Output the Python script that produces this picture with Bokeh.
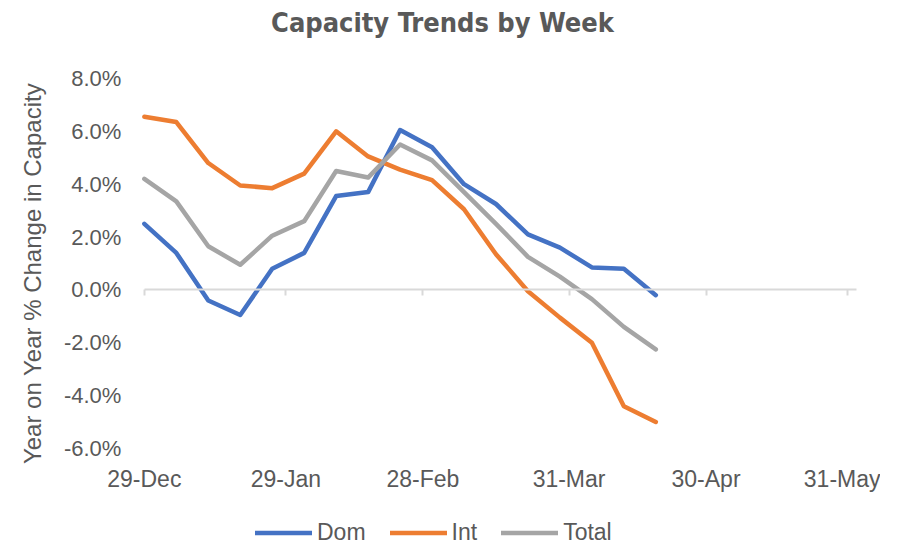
import pandas as pd
from bokeh.plotting import figure
from bokeh.models import (Range1d, FixedTicker, DatetimeTickFormatter, PrintfTickFormatter,
                          DatetimeAxis, CustomJSTickFormatter, Label, Legend, LegendItem,
                          ColumnDataSource)
from bokeh.embed import file_html
from bokeh.resources import INLINE

# ---- data ----
weeks = ["2019-12-29", "2020-01-05", "2020-01-12", "2020-01-19", "2020-01-26", "2020-02-02",
         "2020-02-09", "2020-02-16", "2020-02-23", "2020-03-01", "2020-03-08", "2020-03-15",
         "2020-03-22", "2020-03-29", "2020-04-05", "2020-04-12", "2020-04-19"]
dom = [2.5, 1.4, -0.4, -0.95, 0.8, 1.4, 3.55, 3.7, 6.05, 5.4, 4.0, 3.25, 2.1, 1.6, 0.85, 0.8, -0.2]
intl = [6.55, 6.35, 4.8, 3.95, 3.85, 4.4, 6.0, 5.05, 4.55, 4.15, 3.05, 1.35, -0.05, -1.05, -2.0, -4.4, -5.0]
total = [4.2, 3.35, 1.65, 0.95, 2.05, 2.6, 4.5, 4.25, 5.5, 4.9, 3.7, 2.5, 1.25, 0.5, -0.35, -1.4, -2.25]
series_names = ["Dom", "Int", "Total"]
x_tick_dates = ["2019-12-29", "2020-01-29", "2020-02-28", "2020-03-31", "2020-04-30", "2020-05-31"]
x_start, x_end = "2019-12-29", "2020-06-02"
y_ticks = [-6, -4, -2, 0, 2, 4, 6, 8]
title_text = "Capacity Trends by Week"
y_title = "Year on Year % Change in Capacity"

colors = ["#4472C4", "#ED7D31", "#A5A5A5"]
TXT = "#595959"
AXIS = "#D9D9D9"
FONT = "Liberation Sans"

def ms(d):
    return pd.Timestamp(d).value // 10**6

src = ColumnDataSource(dict(x=pd.to_datetime(weeks), dom=dom, intl=intl, total=total))
tick_ms = [ms(d) for d in x_tick_dates]

# The frame covers the whole canvas; the view ranges leave room around the plot area
# for the title, the axes' labels and the legend.
view_x = Range1d(pd.Timestamp(x_start) - pd.Timedelta(days=31.5),
                 pd.Timestamp(x_start) + pd.Timedelta(days=161.2))
view_y = Range1d(-9.71, 10.95)

p = figure(width=880, height=546, x_axis_type="datetime", x_range=view_x, y_range=view_y,
           output_backend="svg", toolbar_location=None,
           min_border_left=0, min_border_right=0, min_border_top=0, min_border_bottom=0)
p.outline_line_color = None
p.xgrid.visible = False
p.ygrid.visible = False
p.background_fill_color = "white"
p.border_fill_color = "white"

# title
p.add_layout(Label(x=442, y=524, x_units="screen", y_units="screen", text=title_text,
                   text_align="center", text_baseline="alphabetic",
                   text_font="DejaVu Sans Condensed", text_font_style="bold",
                   text_font_size="27px", text_color=TXT))

# date labels (below the value range)
xa = p.xaxis[0]
xa.fixed_location = y_ticks[0]
xa.ticker = FixedTicker(ticks=tick_ms)
fmt = "%d-%b"
xa.formatter = DatetimeTickFormatter(milliseconds=fmt, seconds=fmt, minsec=fmt, minutes=fmt,
                                     hourmin=fmt, hours=fmt, days=fmt, months=fmt, years=fmt)
xa.axis_line_color = None
xa.major_tick_line_color = None
xa.minor_tick_line_color = None
xa.major_tick_out = 0
xa.major_tick_in = 0
xa.major_label_standoff = 18
xa.major_label_text_font = FONT
xa.major_label_text_font_size = "23px"
xa.major_label_text_color = TXT

# zero-line axis with tick marks
za = DatetimeAxis(fixed_location=0, ticker=FixedTicker(ticks=tick_ms),
                  bounds=(ms(x_start), ms(x_end)),
                  formatter=CustomJSTickFormatter(code="return ''"),
                  axis_line_color=AXIS, axis_line_width=2,
                  major_tick_line_color=AXIS, major_tick_line_width=2,
                  major_tick_in=0, major_tick_out=6, minor_tick_line_color=None,
                  major_label_standoff=0)
p.add_layout(za, "below")

# y axis, placed at the start of the date range
ya = p.yaxis[0]
ya.fixed_location = ms(x_start)
ya.ticker = FixedTicker(ticks=y_ticks)
ya.formatter = PrintfTickFormatter(format="%.1f%%")
ya.axis_line_color = None
ya.major_tick_line_color = None
ya.minor_tick_line_color = None
ya.major_tick_out = 0
ya.major_tick_in = 0
ya.major_label_standoff = 23
ya.major_label_text_font = FONT
ya.major_label_text_font_size = "22px"
ya.major_label_text_color = TXT
ya.axis_label = y_title
ya.axis_label_text_font = FONT
ya.axis_label_text_font_size = "24px"
ya.axis_label_text_font_style = "normal"
ya.axis_label_text_color = TXT
ya.axis_label_standoff = 15

renderers = []
for col, c in zip(["dom", "intl", "total"], colors):
    r = p.line("x", col, source=src, line_color=c, line_width=4.5,
               line_cap="round", line_join="round")
    renderers.append(r)

legend = Legend(items=[LegendItem(label=n, renderers=[r]) for n, r in zip(series_names, renderers)],
                orientation="horizontal", location=(255, 0),
                glyph_width=57, glyph_height=27, label_height=27, label_standoff=5, spacing=24,
                padding=0, margin=0, border_line_color=None, background_fill_alpha=0,
                label_text_font=FONT, label_text_font_size="23px", label_text_color=TXT)
p.add_layout(legend, "center")

open("out.html", "w").write(file_html(p, INLINE))
